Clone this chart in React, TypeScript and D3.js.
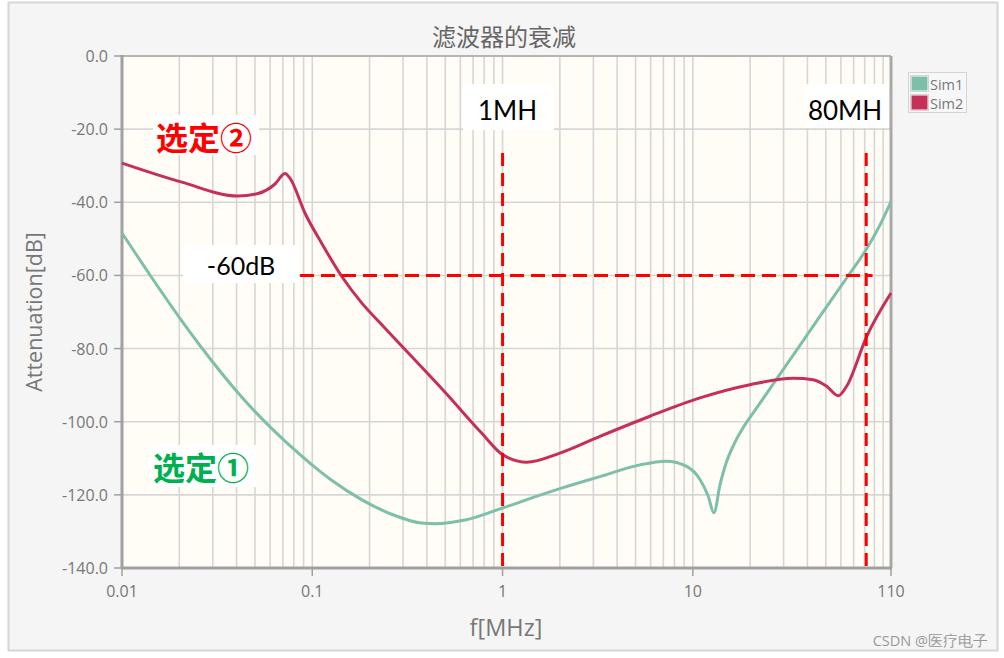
import React from 'react';
import * as d3 from 'd3';

// ---------- data ----------
const sim1Freq = [0.01, 0.01438, 0.02066, 0.02968, 0.04264, 0.06126, 0.088, 0.1264, 0.1816, 0.2609, 0.3748, 0.4414, 0.6344, 1.0, 1.49, 2.0, 3.25, 5.27, 7.28, 9.27, 10.9, 12.05, 12.9, 13.9, 15.05, 16.3, 18.4, 20.8, 24.4, 31.1, 44.7, 64.3, 81.9, 95, 110];
const sim1Db = [-48.4, -60.7, -72.5, -83.4, -93.3, -101.9, -109.4, -116.0, -121.3, -125.3, -127.7, -127.9, -126.9, -123.6, -120.5, -118.3, -115, -111.8, -110.8, -112.2, -115.8, -120.4, -124.9, -117.2, -110.9, -106.6, -101.6, -97.5, -92.3, -84.4, -72.5, -60.7, -52.7, -46.8, -39.8];

const sim2Freq = [0.01, 0.0206, 0.0407, 0.0519, 0.0637, 0.0719, 0.0763, 0.0916, 0.112, 0.143, 0.1818, 0.232, 0.518, 0.776, 1.0, 1.34, 2.0, 3.25, 5.95, 10.9, 19.95, 33.7, 42.9, 50.5, 58.1, 64.3, 81.9, 110];
const sim2Db = [-29.3, -34.5, -38.3, -37.6, -35, -32.1, -33.4, -43, -51.2, -60.3, -67.5, -73.5, -92.9, -103.1, -109, -111.1, -108.6, -104, -98.5, -93.5, -89.9, -88.1, -88.5, -90.3, -92.9, -90.3, -76.7, -64.8];

const seriesNames = ['Sim1', 'Sim2'];
const seriesColors = ['#7dbfa9', '#c62f58'];

const yTicks = [0, -20, -40, -60, -80, -100, -120, -140];
const xTickValues = [0.01, 0.1, 1, 10, 110];
const xTickLabels = ['0.01', '0.1', '1', '10', '110'];

const markerFreqs = [1, 81.5];
const markerLabels = ['1MH', '80MH'];
const markerTopDb = -26.5;
const thresholdDb = -60;
const thresholdFrom = 0.0862;
const thresholdTo = 88;
const thresholdLabel = '-60dB';

const title = '滤波器的衰减';
const xTitle = 'f[MHz]';
const yTitle = 'Attenuation[dB]';

// ---------- layout ----------
const W = 1004, H = 658;
const L = 122, R = 891, T = 56, B = 568;

const latin = '"Open Sans", "Noto Sans", sans-serif';
const cjk = '"Noto Sans CJK SC", sans-serif';

export default function App() {
  const x = d3.scaleLog().domain([0.01, 110]).range([L, R]);
  const y = d3.scaleLinear().domain([-140, 0]).range([B, T]);

  const gridX: number[] = [];
  for (let e = -2; e <= 2; e++) {
    for (let m = 1; m <= 9; m++) {
      const v = m * Math.pow(10, e);
      if (v > 0.01 && v < 110) gridX.push(v);
    }
  }

  const line = d3
    .line<[number, number]>()
    .x((d) => x(d[0]))
    .y((d) => y(d[1]))
    .curve(d3.curveMonotoneX);

  const s1: [number, number][] = sim1Freq.map((f, i) => [f, sim1Db[i]]);
  const s2: [number, number][] = sim2Freq.map((f, i) => [f, sim2Db[i]]);

  const red = '#ff0000';

  return (
    <svg width={W} height={H} style={{ position: 'absolute', left: 0, top: 0 }}>
      <rect x={0} y={0} width={W} height={H} fill="#ffffff" />
      <rect x={8.5} y={2.5} width={989} height={648} fill="#f5f5f5" stroke="#d6d6d6" strokeWidth={2} />

      {/* title */}
      <text x={504} y={35} textAnchor="middle" dominantBaseline="central" fontFamily={cjk} fontSize={24} fill="#666">
        {title}
      </text>

      {/* plot bg */}
      <rect x={L} y={T} width={R - L} height={B - T} fill="#fffdf6" />

      {/* grid */}
      <g stroke="#d6d6d6" strokeWidth={1.6}>
        {gridX.map((v, i) => (
          <line key={'gx' + i} x1={x(v)} x2={x(v)} y1={T} y2={B} />
        ))}
        {yTicks.slice(1, -1).map((v, i) => (
          <line key={'gy' + i} x1={L} x2={R} y1={y(v)} y2={y(v)} />
        ))}
      </g>

      {/* plot border */}
      <line x1={L} x2={R} y1={T} y2={T} stroke="#b4b4b4" strokeWidth={2} />
      <line x1={R} x2={R} y1={T} y2={B} stroke="#a8a8a8" strokeWidth={3} />
      <line x1={L} x2={L} y1={T - 1} y2={B + 1} stroke="#a0a0a0" strokeWidth={3} />
      <line x1={L - 1} x2={R + 1} y1={B} y2={B} stroke="#a0a0a0" strokeWidth={3} />

      {/* y ticks */}
      {yTicks.map((v, i) => (
        <g key={'yt' + i}>
          <line x1={L - 8} x2={L} y1={y(v)} y2={y(v)} stroke="#a0a0a0" strokeWidth={1.5} />
          <text x={108} y={y(v)} textAnchor="end" dominantBaseline="central" fontFamily={latin} fontSize={16} fill="#777">
            {v === 0 ? '0.0' : v.toFixed(1)}
          </text>
        </g>
      ))}

      {/* x ticks */}
      {xTickValues.map((v, i) => (
        <g key={'xt' + i}>
          <line x1={x(v)} x2={x(v)} y1={B} y2={B + 8} stroke="#a0a0a0" strokeWidth={1.5} />
          <text x={x(v)} y={591} textAnchor="middle" dominantBaseline="central" fontFamily={latin} fontSize={16} fill="#777">
            {xTickLabels[i]}
          </text>
        </g>
      ))}

      {/* axis titles */}
      <text x={506} y={627} textAnchor="middle" dominantBaseline="central" fontFamily={latin} fontSize={23.5} fill="#777">
        {xTitle}
      </text>
      <text
        transform={`translate(33,312) rotate(-90)`}
        textAnchor="middle"
        dominantBaseline="central"
        fontFamily={latin}
        fontSize={21.5}
        fill="#777"
      >
        {yTitle}
      </text>

      {/* series */}
      <path d={line(s1) || ''} fill="none" stroke={seriesColors[0]} strokeWidth={3} strokeLinejoin="round" />
      <path d={line(s2) || ''} fill="none" stroke={seriesColors[1]} strokeWidth={3} strokeLinejoin="round" />

      {/* dashed markers */}
      {markerFreqs.map((f, i) => (
        <line key={'mk' + i} x1={x(f)} x2={x(f)} y1={y(markerTopDb)} y2={B - 1} stroke={red} strokeWidth={3} strokeDasharray="13,7" />
      ))}
      <line x1={x(thresholdFrom)} x2={x(thresholdTo)} y1={y(thresholdDb)} y2={y(thresholdDb)} stroke={red} strokeWidth={3} strokeDasharray="14,7" />

      {/* annotation boxes */}
      <rect x={463} y={84} width={91} height={46} fill="#fff" />
      <text x={x(markerFreqs[0]) + 5} y={110} textAnchor="middle" dominantBaseline="central" fontFamily='Lato, "Open Sans", sans-serif' fontSize={26} fill="#000">
        {markerLabels[0]}
      </text>
      <rect x={805} y={84} width={84} height={44} fill="#fff" />
      <text x={845} y={110} textAnchor="middle" dominantBaseline="central" fontFamily='Lato, "Open Sans", sans-serif' fontSize={26} fill="#000">
        {markerLabels[1]}
      </text>
      <rect x={183} y={245} width={116} height={38} fill="#fff" />
      <text x={241} y={265} textAnchor="middle" dominantBaseline="central" fontFamily='Lato, "Open Sans", sans-serif' fontSize={25} fill="#000">
        {thresholdLabel}
      </text>

      <rect x={153} y={115} width={106} height={40} fill="#fff" />
      <text x={156} y={136} dominantBaseline="central" fontFamily={cjk} fontWeight={700} fontSize={32} fill="#ff0000">
        选定②
      </text>
      <rect x={150} y={445} width={106} height={42} fill="#fff" />
      <text x={153} y={466} dominantBaseline="central" fontFamily={cjk} fontWeight={700} fontSize={32} fill="#00b050">
        选定①
      </text>

      {/* legend */}
      <rect x={908.5} y={72.5} width={58} height={40} fill="#f7f7f7" stroke="#d4d4d4" strokeWidth={1} />
      {seriesNames.map((n, i) => (
        <g key={'lg' + i}>
          <rect x={910.5} y={75.5 + i * 19} width={18} height={16} fill="#fff" stroke="#d4d4d4" strokeWidth={1} />
          <rect x={911.5} y={76.5 + i * 19} width={16} height={14} fill={seriesColors[i]} />
          <text x={930} y={84 + i * 19} dominantBaseline="central" fontFamily={latin} fontSize={14.5} fill="#777">
            {n}
          </text>
        </g>
      ))}

      {/* watermark */}
      <text x={988} y={640} textAnchor="end" dominantBaseline="central" fontFamily={latin} fontSize={14.5} fill="#999">
        CSDN @医疗电子
      </text>
    </svg>
  );
}
